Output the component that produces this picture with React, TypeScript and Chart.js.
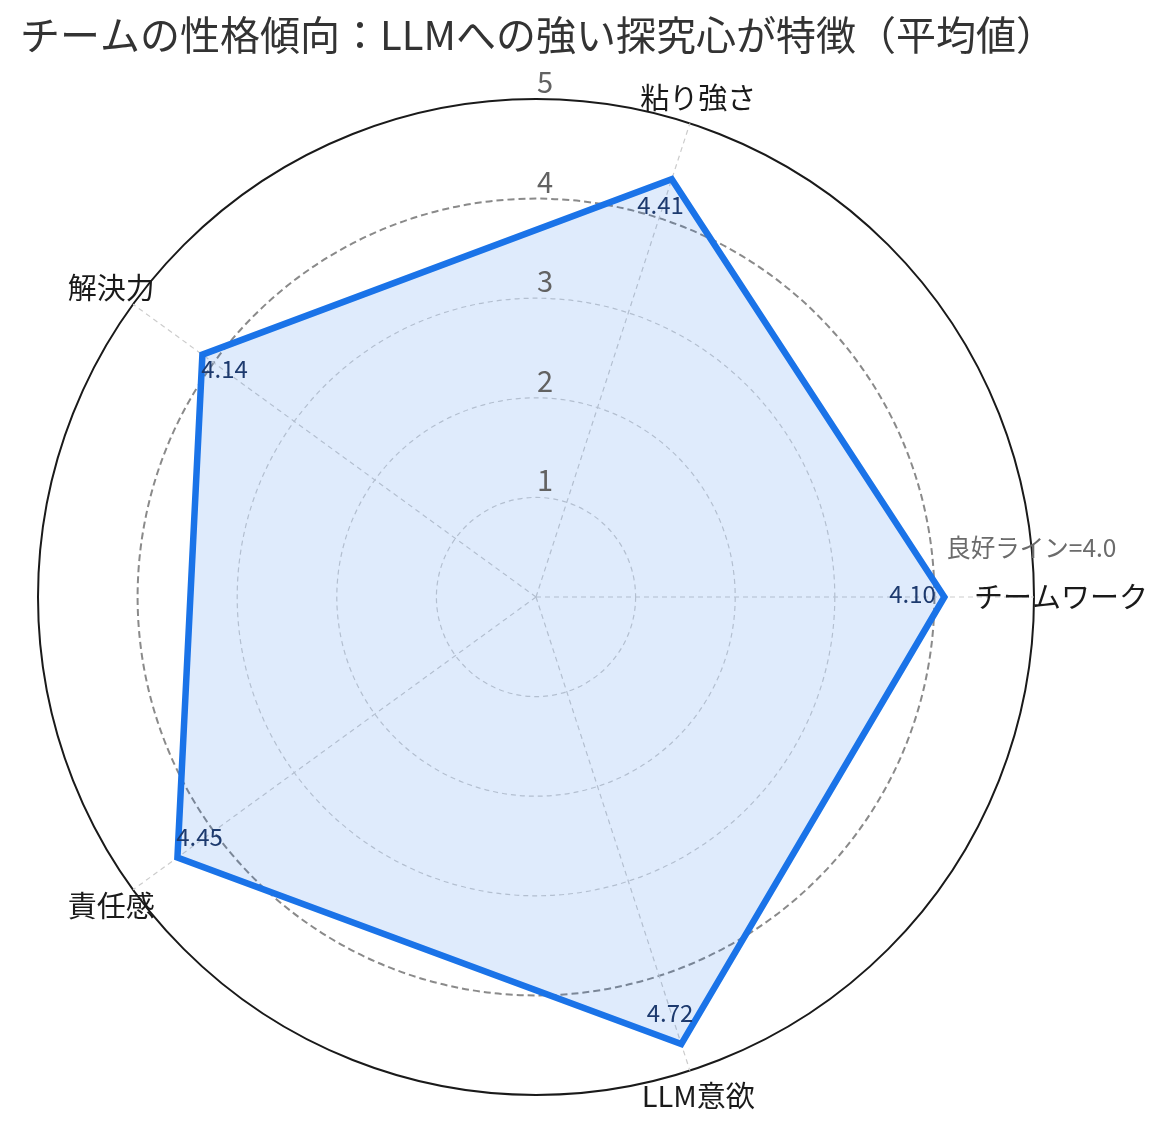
import React, { useEffect, useRef } from "react";
import { Chart, registerables } from "chart.js";

Chart.register(...registerables);

// ---- data ----
const title = "チームの性格傾向：LLMへの強い探究心が特徴（平均値）";
const categories = ["チームワーク", "粘り強さ", "解決力", "責任感", "LLM意欲"];
const scores = [4.1, 4.41, 4.14, 4.45, 4.72];
const tickValues = [1, 2, 3, 4, 5];
const goodLineValue = 4.0;
const goodLineLabel = "良好ライン=4.0";

const FONT = "'Noto Sans CJK JP', 'Noto Sans', sans-serif";

// matplotlib goes counter-clockwise from the right; Chart.js goes clockwise.
const order = [0, ...categories.map((_, i) => i).slice(1).reverse()];
const chartLabels = order.map((i) => categories[i]);
const chartScores = order.map((i) => scores[i]);

const overlayPlugin = {
  id: "overlay",
  afterDraw(chart: any) {
    const ctx = chart.ctx;
    const scale = chart.scales.r;
    const cx = scale.xCenter;
    const cy = scale.yCenter;
    ctx.save();

    // title
    ctx.fillStyle = "#333333";
    ctx.font = `40px ${FONT}`;
    ctx.textAlign = "left";
    ctx.textBaseline = "middle";
    ctx.fillText(title, 20, 35);

    // radial tick labels
    ctx.fillStyle = "#626262";
    ctx.font = `29px ${FONT}`;
    ctx.textAlign = "center";
    ctx.textBaseline = "middle";
    tickValues.forEach((v) => {
      const d = scale.getDistanceFromCenterForValue(v);
      ctx.fillText(String(v), cx + 9, cy - d - 17);
    });

    // category labels
    ctx.fillStyle = "#1a1a1a";
    ctx.font = `29px ${FONT}`;
    chartLabels.forEach((lab, i) => {
      const p = scale.getPointPosition(i, scale.drawingArea + 27);
      ctx.fillText(lab, p.x, p.y);
    });

    // value labels
    ctx.fillStyle = "#1d3a6e";
    ctx.font = `24px ${FONT}`;
    chartScores.forEach((v, i) => {
      const p = scale.getPointPositionForValue(i, v - 0.3);
      ctx.fillText(v.toFixed(2), p.x - 2, p.y - 3);
    });

    // good-line label
    const ang = scale.getIndexAngle(0) - Math.PI / 2 - 0.12;
    const r = scale.getDistanceFromCenterForValue(goodLineValue + 0.15);
    ctx.fillStyle = "#6b6b6b";
    ctx.font = `24.5px ${FONT}`;
    ctx.textAlign = "left";
    ctx.fillText(goodLineLabel, cx + Math.cos(ang) * r, cy + Math.sin(ang) * r);

    ctx.restore();
  },
};

export default function App() {
  const ref = useRef<HTMLCanvasElement | null>(null);

  useEffect(() => {
    if (!ref.current) return;
    Chart.defaults.font.family = FONT;
    const chart = new Chart(ref.current, {
      type: "radar",
      data: {
        labels: chartLabels,
        datasets: [
          {
            label: "平均値",
            data: chartScores,
            borderColor: "#1a73e8",
            backgroundColor: "rgba(26,115,232,0.14)",
            borderWidth: 6.5,
            borderJoinStyle: "miter",
            pointRadius: 0,
            pointHoverRadius: 0,
            fill: true,
            tension: 0,
          },
        ],
      },
      options: {
        responsive: false,
        animation: false,
        layout: { padding: { left: 38, right: 135, top: 99, bottom: 35 } },
        plugins: {
          legend: { display: false },
          tooltip: { enabled: false },
          title: { display: false },
        },
        scales: {
          r: {
            min: 0,
            max: 5,
            startAngle: 90,
            ticks: { stepSize: 1, display: false },
            pointLabels: { display: false },
            grid: {
              circular: true,
              color: (c: any) =>
                c.tick && c.tick.value === 5
                  ? "#1a1a1a"
                  : c.tick && c.tick.value === goodLineValue
                  ? "#8a8a8a"
                  : "#cccccc",
              lineWidth: (c: any) =>
                c.tick && c.tick.value === 5
                  ? 2
                  : c.tick && c.tick.value === goodLineValue
                  ? 2
                  : 1.2,
            },
            border: {
              dash: (c: any) =>
                c.tick && c.tick.value === 5
                  ? []
                  : c.tick && c.tick.value === goodLineValue
                  ? [7, 4]
                  : [5, 4],
            },
            angleLines: {
              color: "#cccccc",
              lineWidth: 1.2,
              borderDash: [5, 4],
            },
          },
        },
      } as any,
      plugins: [overlayPlugin],
    });
    return () => chart.destroy();
  }, []);

  return (
    <div style={{ position: "absolute", left: 0, top: 0, width: 1169, height: 1130, background: "#ffffff" }}>
      <canvas ref={ref} width={1169} height={1130} style={{ width: 1169, height: 1130, display: "block" }} />
    </div>
  );
}
